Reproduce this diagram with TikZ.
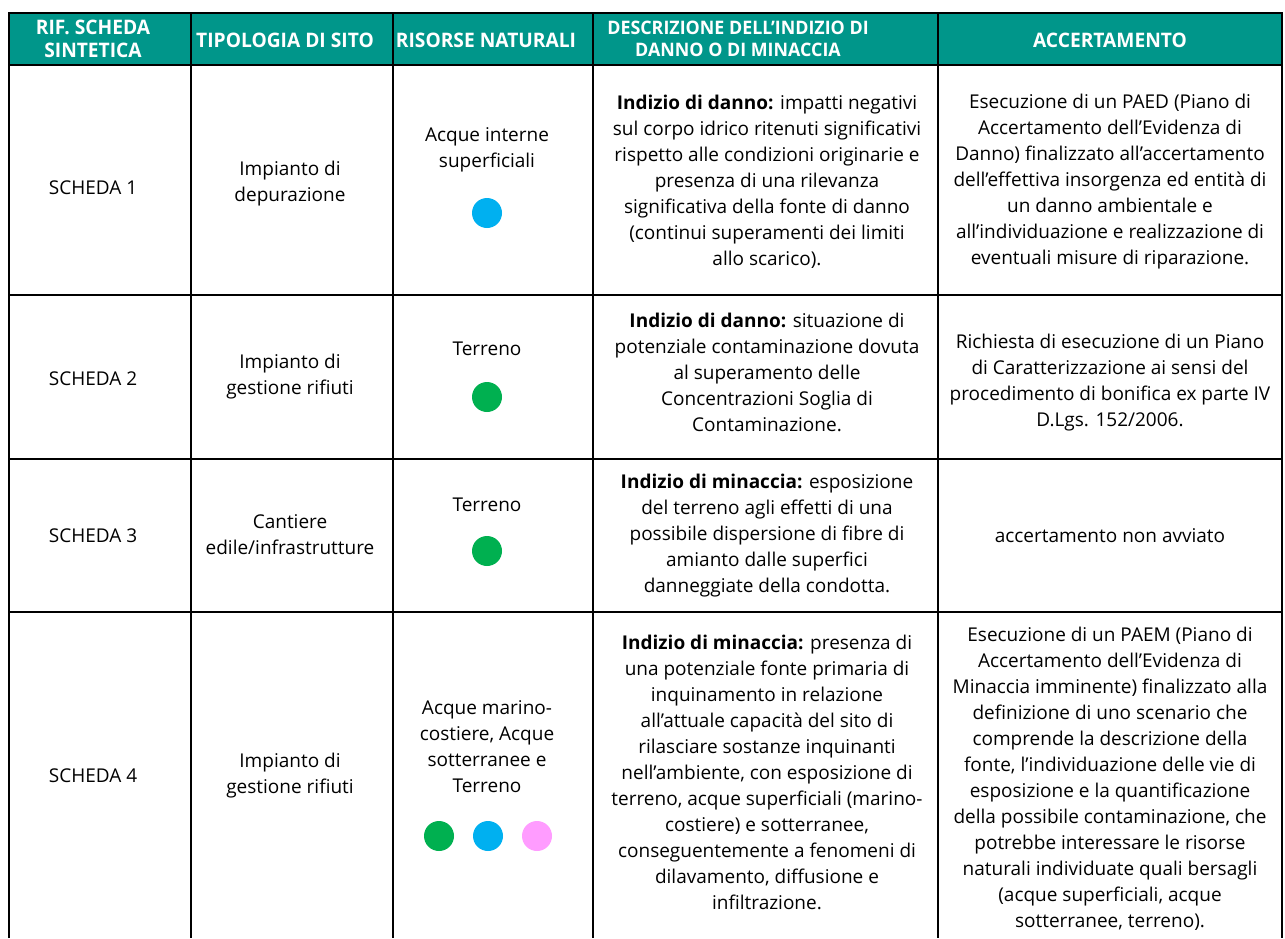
\documentclass[tikz,border=0pt]{standalone}
\usepackage{fontspec}
\setmainfont{Open Sans}
\newfontfamily\hdrfont[FakeStretch=0.96]{Open Sans}
\definecolor{hdrteal}{RGB}{0,150,138}
\definecolor{dotblue}{RGB}{0,176,240}
\definecolor{dotgreen}{RGB}{0,176,80}
\definecolor{dotpink}{RGB}{255,156,255}
\begin{document}
\begin{tikzpicture}[x=1pt,y=-1pt,
  cell/.style={align=center, inner sep=0pt, font=\fontsize{19}{26}\selectfont},
  hcell/.style={align=center, inner sep=0pt, text=white, font=\hdrfont\bfseries\fontsize{20}{22.5}\selectfont},
  hcellsmall/.style={hcell, font=\hdrfont\bfseries\fontsize{18.6}{22.5}\selectfont},
  dot/.style={circle, minimum size=30pt, inner sep=0pt},
  gridline/.style={line width=2.6pt, line join=miter}]
\useasboundingbox (0,0) rectangle (1285,938);
\fill[white] (0,0) rectangle (1285,938);
\fill[hdrteal] (9,13) rectangle (1282,65);
\draw[gridline] (9,938) -- (9,13) -- (1282,13) -- (1282,938);
\foreach \x in {191,393,593,938} \draw[gridline] (\x,13) -- (\x,938);
\foreach \y in {65,295,459,612} \draw[gridline] (9,\y) -- (1282,\y);

% header
\node[hcell] (h1) at (93,39) {RIF. SCHEDA\\SINTETICA};
\node[hcell] (h2) at (285,40) {TIPOLOGIA DI SITO};
\node[hcell] (h3) at (486,40) {RISORSE NATURALI};
\node[hcellsmall] (h4) at (738,39) {DESCRIZIONE DELL’INDIZIO DI\\DANNO O DI MINACCIA};
\node[hcell] (h5) at (1110,40) {ACCERTAMENTO};

% row 1
\node[cell] (r1c1) at (93,188) {SCHEDA 1};
\node[cell] (r1c2) at (290,184) {Impianto di\\depurazione};
\node[cell] (r1c3) at (487,150) {Acque interne\\superficiali};
\node[dot, fill=dotblue] (r1d1) at (487,213) {};
\node[cell] (r1c4) at (767,182) {\textbf{Indizio di danno:} impatti negativi\\sul corpo idrico ritenuti significativi\\rispetto alle condizioni originarie e\\presenza di una rilevanza\\significativa della fonte di danno\\(continui superamenti dei limiti\\allo scarico).};
\node[cell] (r1c5) at (1110,182) {Esecuzione di un PAED (Piano di\\Accertamento dell’Evidenza di\\Danno) finalizzato all’accertamento\\dell’effettiva insorgenza ed entità di\\un danno ambientale e\\all’individuazione e realizzazione di\\eventuali misure di riparazione.};

% row 2
\node[cell] (r2c1) at (93,379) {SCHEDA 2};
\node[cell] (r2c2) at (290,377) {Impianto di\\gestione rifiuti};
\node[cell] (r2c3) at (487,349) {Terreno};
\node[dot, fill=dotgreen] (r2d1) at (487,397) {};
\node[cell] (r2c4) at (767,372) {\textbf{Indizio di danno:} situazione di\\potenziale contaminazione dovuta\\al superamento delle\\Concentrazioni Soglia di\\Contaminazione.};
\node[cell] (r2c5) at (1110,383) {Richiesta di esecuzione di un Piano\\di Caratterizzazione ai sensi del\\procedimento di bonifica ex parte IV\\D.Lgs. 152/2006.};

% row 3
\node[cell] (r3c1) at (93,536) {SCHEDA 3};
\node[cell] (r3c2) at (290,535) {Cantiere\\edile/infrastrutture};
\node[cell] (r3c3) at (487,505) {Terreno};
\node[dot, fill=dotgreen] (r3d1) at (487,551) {};
\node[cell] (r3c4) at (767,536) {\textbf{Indizio di minaccia:} esposizione\\del terreno agli effetti di una\\possibile dispersione di fibre di\\amianto dalle superfici\\danneggiate della condotta.};
\node[cell] (r3c5) at (1110,536) {accertamento non avviato};

% row 4
\node[cell] (r4c1) at (93,776) {SCHEDA 4};
\node[cell] (r4c2) at (290,776) {Impianto di\\gestione rifiuti};
\node[cell] (r4c3) at (487,747) {Acque marino-\\costiere, Acque\\sotterranee e\\Terreno};
\node[dot, fill=dotgreen] (r4d1) at (439,836) {};
\node[dot, fill=dotblue] (r4d2) at (488,836) {};
\node[dot, fill=dotpink] (r4d3) at (537,836) {};
\node[cell] (r4c4) at (767,772) {\textbf{Indizio di minaccia:} presenza di\\una potenziale fonte primaria di\\inquinamento in relazione\\all’attuale capacità del sito di\\rilasciare sostanze inquinanti\\nell’ambiente, con esposizione di\\terreno, acque superficiali (marino-\\costiere) e sotterranee,\\conseguentemente a fenomeni di\\dilavamento, diffusione e\\infiltrazione.};
\node[cell] (r4c5) at (1110,779) {Esecuzione di un PAEM (Piano di\\Accertamento dell’Evidenza di\\Minaccia imminente) finalizzato alla\\definizione di uno scenario che\\comprende la descrizione della\\fonte, l’individuazione delle vie di\\esposizione e la quantificazione\\della possibile contaminazione, che\\potrebbe interessare le risorse\\naturali individuate quali bersagli\\(acque superficiali, acque\\sotterranee, terreno).};
\end{tikzpicture}
\end{document}
